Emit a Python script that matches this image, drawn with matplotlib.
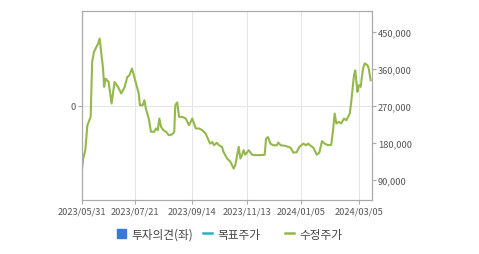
import matplotlib
matplotlib.use("Agg")
import matplotlib.pyplot as plt
from matplotlib.lines import Line2D
from matplotlib.patches import Patch

plt.rcParams['font.family'] = ['Noto Sans CJK KR', 'DejaVu Sans']

# trading-day index since 2023/05/31 and adjusted price (수정주가)
day = [0, 1, 2.4, 3.8, 6, 7, 8.2, 11, 12, 14.3, 15, 16, 18, 20, 22, 24.3, 26.5,
       28.8, 30.5, 31.9, 33.7, 34.6, 36.4, 38.2, 39, 40.9, 42, 43, 44.9, 46.4,
       48.6, 49.8, 50.9, 52, 53.1, 54.7, 56.5, 58.3, 60.5, 62, 62.7, 64, 65.2,
       67.4, 69.7, 71.9, 74.1, 76.4, 78.6, 80.8, 83, 86, 87.5, 88.6, 90.5, 92,
       94, 95, 97.4, 99.6, 101.8, 102.9, 105.2, 106.3, 107.4, 108.5, 109.6,
       111.9, 114.1, 116.3, 119.7, 122.6, 123.5, 124.8, 126.4, 128.4, 130.7,
       131.7, 133.3, 136.2, 138.4, 140, 141.8, 144, 145.8, 148.5, 150.3, 151.8,
       153, 155.2, 157.5, 159.2, 161, 162.8, 165, 167.2, 168.4, 169.5, 170.6,
       172.2, 173.9, 175.7, 177.3, 179.6, 180.6, 182.4, 183.3, 184.7, 185.6,
       186.9, 188.5, 189.6, 191.4, 192.3, 193.6]
price = [109500, 141800, 162000, 222800, 243000, 377000, 401000, 421500, 433700,
         360700, 316000, 336000, 328000, 275600, 328000, 316000, 300000, 316000,
         340000, 344000, 360700, 348600, 324000, 300000, 271500, 271500, 283600,
         263000, 239000, 206800, 206800, 214800, 210700, 239000, 219000, 210700,
         206800, 198500, 200200, 206800, 271500, 278000, 243000, 243000, 239000,
         222800, 239000, 214800, 214800, 210700, 202600, 178000, 182000, 174000,
         180000, 174000, 170000, 158000, 141800, 134000, 117500, 125500, 170000,
         141800, 150000, 162000, 151000, 162000, 151000, 150000, 150000, 151000,
         190000, 194000, 178000, 174000, 174000, 180700, 174000, 172700, 170000,
         168000, 156000, 157000, 170000, 178000, 174000, 178000, 174000, 168000,
         151000, 156000, 184000, 178000, 174000, 175000, 210700, 251000, 227000,
         231000, 227000, 239000, 235000, 251000, 280000, 344000, 356000, 304000,
         320000, 316000, 360700, 373000, 369000, 360700, 332000]

tick_days = [0, 36, 74, 111, 147, 186]
tick_labels = ['2023/05/31', '2023/07/21', '2023/09/14', '2023/11/13',
               '2024/01/05', '2024/03/05']
right_ticks = [90000, 180000, 270000, 360000, 450000]
legend_labels = ['투자의견(좌)', '목표주가', '수정주가']

green = '#94b84c'
blue = '#3a78d8'
teal = '#2bb0c0'
spine = '#aaaaaa'
txt = '#555555'

fig = plt.figure(figsize=(4.79, 2.55), dpi=100)
ax = fig.add_axes([0.1706, 0.212, 0.6054, 0.740])
ax2 = ax.twinx()

ax.set_xlim(0, 194.3)
ax.set_ylim(-1, 1)
ax.set_yticks([0])
ax.set_yticklabels(['0'])
ax.set_xticks(tick_days)
ax.set_xticklabels(tick_labels)
for d in tick_days:
    ax.axvline(d, color='#e6e6e6', lw=0.8, zorder=0)
ax.axhline(0, color='#e6e6e6', lw=0.8, zorder=0)

ax2.plot(day, price, color=green, lw=1.5, solid_joinstyle='round')
ax2.set_ylim(41000, 500000)
ax2.set_yticks(right_ticks)
ax2.set_yticklabels(['{:,}'.format(v) for v in right_ticks])

for a in (ax, ax2):
    for s in a.spines.values():
        s.set_color(spine)
        s.set_linewidth(0.8)
    a.tick_params(colors=spine, labelcolor=txt, labelsize=6.7, length=3, width=0.8, pad=1.5)

# legend, one entry each
handles = [Patch(facecolor=blue, edgecolor=blue),
           Line2D([], [], color=teal, lw=1.8),
           Line2D([], [], color=green, lw=1.8)]
lx = [117, 203, 285]
for h, lab, x in zip(handles, legend_labels, lx):
    fig.legend([h], [lab], loc='center left', bbox_to_anchor=(x / 479, 0.078),
               frameon=False, fontsize=8.4, handlelength=0.8, handleheight=0.8,
               handletextpad=0.4, borderpad=0, borderaxespad=0, labelcolor='#444444')

fig.savefig('out.png', dpi=100)
